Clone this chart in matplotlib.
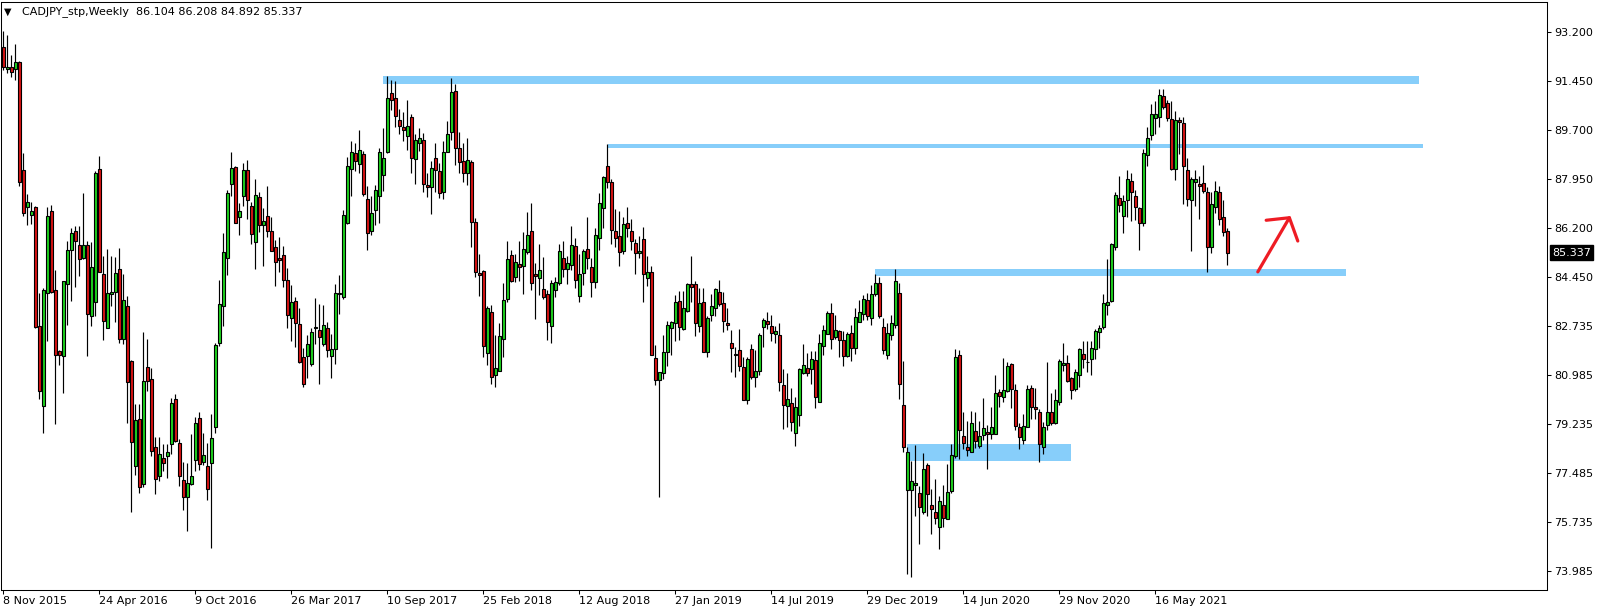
import numpy as np
import matplotlib
matplotlib.use("Agg")
import matplotlib.pyplot as plt
from matplotlib.patches import Rectangle

# ---------------- data (weekly CADJPY candles, 8 Nov 2015 .. Sep 2021) ----------------
opens = [
    92.68, 91.87, 91.95, 91.87, 92.13, 88.28, 86.95, 86.67, 86.98, 82.72,
    79.88, 83.89, 86.81, 83.99, 81.82, 81.64, 84.23, 85.42, 86.12, 85.61,
    85.16, 85.61, 83.09, 83.57, 88.31, 84.56, 82.64, 83.85, 83.95, 84.76,
    82.26, 83.44, 81.47, 77.74, 79.41, 77.08, 81.25, 80.82, 78.41, 77.36,
    78.02, 78.07, 78.50, 80.11, 78.54, 77.23, 76.63, 77.08, 77.93, 79.43,
    77.88, 77.74, 77.84, 79.12, 82.11, 83.44, 85.13, 87.77, 88.38, 86.59,
    87.37, 88.28, 87.01, 85.70, 87.31, 86.31, 86.63, 86.09, 85.52, 85.13,
    85.25, 84.36, 83.00, 83.60, 82.78, 81.60, 81.64, 81.38, 82.64, 82.58,
    82.07, 82.66, 81.66, 81.89, 83.87, 83.74, 86.40, 88.32, 88.88, 88.51,
    88.86, 87.24, 86.09, 86.84, 87.35, 88.09, 88.92, 91.02, 90.85, 90.06,
    89.81, 89.49, 90.17, 88.66, 89.24, 89.34, 87.73, 87.68, 88.70, 88.24,
    87.48, 88.92, 89.62, 91.08, 89.07, 88.60, 88.16, 88.56, 86.41, 84.62,
    84.68, 81.75, 83.21, 80.99, 81.13, 82.27, 83.70, 85.25, 84.46, 84.93,
    84.87, 85.35, 86.09, 84.59, 84.44, 84.04, 83.87, 82.71, 83.99, 84.27,
    85.16, 84.74, 84.91, 85.57, 83.80, 84.62, 85.46, 84.84, 84.30, 85.84,
    86.91, 88.41, 87.84, 86.09, 85.93, 85.38, 86.41, 86.12, 85.67, 85.32,
    85.83, 84.42, 84.63, 81.57, 80.81, 81.03, 81.79, 82.64, 82.81, 83.60,
    82.62, 83.25, 84.21, 84.21, 82.71, 83.57, 81.81, 83.13, 83.35, 83.93,
    83.53, 82.83, 82.13, 81.71, 81.85, 81.25, 80.07, 81.89, 80.90, 81.13,
    82.68, 82.90, 82.71, 82.45, 82.40, 80.62, 79.88, 79.98, 78.92, 79.56,
    81.03, 81.22, 81.19, 81.51, 80.01, 82.02, 82.45, 83.19, 82.32, 82.55,
    82.21, 81.64, 82.46, 81.94, 82.87, 83.16, 83.64, 83.00, 83.87, 84.25,
    82.68, 81.70, 82.39, 82.74, 83.89, 79.90, 76.89, 76.89, 77.04, 76.76,
    76.10, 77.75, 76.34, 76.09, 75.55, 76.34, 75.84, 76.85, 78.07, 81.69,
    78.80, 78.39, 78.22, 78.96, 78.45, 78.82, 78.93, 78.86, 78.86, 80.36,
    80.20, 80.39, 81.37, 80.43, 79.12, 78.67, 79.12, 80.52, 79.84, 79.65,
    78.39, 79.18, 79.65, 79.27, 80.01, 81.34, 81.41, 80.87, 80.49, 80.99,
    81.73, 81.45, 81.53, 81.89, 82.49, 82.68, 83.48, 83.60, 85.54, 87.30,
    86.65, 87.20, 87.90, 87.35, 86.92, 86.41, 88.83, 89.52, 90.15, 90.17,
    90.92, 90.68, 90.09, 88.31, 90.06, 89.97, 88.28, 87.20, 87.87, 87.77,
    87.81, 87.49, 85.52, 86.95, 87.48, 86.60, 86.104,
]
highs = [
    93.25, 93.10, 92.38, 92.78, 92.17, 88.89, 87.42, 87.14, 87.01, 83.89,
    84.08, 86.95, 87.04, 84.72, 81.85, 84.34, 85.76, 86.22, 86.28, 86.28,
    87.46, 85.74, 85.71, 88.26, 88.77, 85.23, 85.46, 85.23, 85.19, 85.51,
    84.56, 83.79, 81.50, 79.94, 79.94, 82.49, 82.26, 81.22, 78.76, 78.76,
    78.50, 78.50, 80.16, 80.30, 78.70, 77.87, 77.84, 78.86, 79.46, 79.65,
    78.89, 78.54, 79.59, 82.11, 84.37, 86.02, 87.56, 88.92, 88.44, 87.10,
    88.54, 88.64, 87.14, 87.96, 87.48, 86.92, 87.71, 86.60, 85.77, 85.89,
    85.57, 84.78, 84.18, 83.74, 83.38, 81.94, 82.40, 82.66, 83.72, 83.51,
    83.48, 82.87, 82.45, 84.23, 84.55, 86.86, 88.73, 89.33, 89.24, 89.72,
    88.96, 87.71, 87.37, 87.75, 89.07, 89.78, 91.63, 91.49, 91.44, 90.47,
    90.35, 90.79, 90.28, 89.58, 89.78, 89.59, 88.18, 88.60, 89.24, 88.54,
    89.30, 90.03, 91.57, 91.34, 89.62, 89.24, 89.43, 88.63, 86.56, 85.27,
    84.72, 83.44, 83.47, 82.40, 82.83, 84.25, 85.76, 85.44, 85.29, 85.76,
    86.08, 86.79, 87.11, 84.97, 85.65, 85.19, 84.02, 84.36, 84.46, 85.65,
    85.76, 85.23, 86.28, 85.86, 85.27, 85.48, 86.59, 85.16, 86.21, 87.46,
    88.07, 89.20, 87.96, 86.88, 86.82, 86.60, 86.95, 86.53, 85.83, 85.93,
    86.25, 85.20, 84.85, 82.04, 81.09, 82.40, 82.91, 82.91, 83.83, 83.98,
    83.98, 84.25, 85.23, 84.34, 84.06, 84.08, 83.06, 83.87, 84.08, 84.36,
    83.93, 83.38, 82.58, 81.98, 82.62, 81.60, 81.60, 82.08, 81.85, 82.46,
    83.02, 83.21, 83.10, 82.72, 82.83, 81.19, 81.05, 80.52, 80.20, 81.24,
    82.08, 81.76, 81.83, 81.83, 82.43, 82.77, 83.25, 83.55, 83.10, 82.59,
    82.55, 82.49, 82.74, 83.38, 83.66, 83.83, 83.89, 84.18, 84.56, 84.46,
    83.00, 82.81, 83.10, 84.76, 84.27, 81.47, 78.39, 77.91, 78.48, 77.01,
    78.19, 77.84, 76.91, 77.27, 76.66, 77.05, 77.80, 78.52, 81.89, 81.85,
    79.65, 79.33, 79.69, 79.65, 79.34, 80.16, 79.18, 79.85, 80.96, 80.48,
    81.57, 81.45, 81.41, 80.64, 79.27, 79.59, 80.62, 80.62, 80.52, 79.75,
    79.31, 81.43, 80.33, 80.48, 81.56, 82.11, 81.70, 80.90, 81.18, 81.95,
    82.17, 82.17, 82.17, 82.62, 82.74, 83.85, 85.10, 85.67, 87.48, 88.07,
    87.39, 88.28, 88.18, 87.56, 86.97, 89.02, 89.81, 90.64, 90.74, 91.17,
    91.17, 90.76, 90.74, 90.38, 90.17, 90.17, 88.70, 88.03, 88.28, 88.07,
    88.45, 87.68, 87.49, 87.88, 87.71, 87.20, 86.208,
]
lows = [
    91.85, 91.75, 91.59, 91.50, 87.71, 86.65, 86.33, 86.37, 82.66, 80.13,
    78.92, 82.17, 83.89, 79.24, 81.34, 80.35, 82.77, 83.61, 84.12, 84.50,
    85.10, 81.66, 82.71, 83.09, 84.63, 82.21, 82.64, 83.44, 82.87, 82.13,
    82.07, 79.28, 76.09, 77.42, 76.76, 76.98, 80.39, 78.07, 76.73, 77.21,
    77.56, 77.31, 78.16, 78.57, 77.00, 76.15, 75.40, 77.05, 77.55, 77.59,
    77.75, 76.51, 74.81, 78.89, 82.01, 82.71, 84.55, 87.35, 86.41, 85.95,
    87.01, 86.54, 85.65, 84.76, 86.08, 84.85, 85.89, 85.38, 84.15, 84.63,
    84.12, 82.64, 82.20, 81.98, 81.41, 80.54, 80.86, 81.28, 82.07, 80.64,
    82.01, 81.62, 80.86, 81.38, 83.16, 83.70, 86.37, 87.37, 88.26, 88.16,
    87.35, 85.44, 85.97, 86.31, 86.41, 87.52, 88.88, 90.41, 89.81, 89.58,
    89.33, 88.98, 88.19, 87.77, 88.95, 87.48, 87.33, 86.73, 87.48, 87.30,
    87.23, 88.92, 89.36, 88.47, 88.19, 87.86, 87.75, 85.52, 84.46, 83.80,
    81.62, 81.34, 80.67, 80.54, 81.13, 81.60, 83.57, 84.30, 84.30, 84.34,
    83.87, 85.27, 83.99, 82.97, 83.83, 83.70, 82.23, 82.13, 83.74, 84.18,
    84.46, 84.23, 84.72, 84.08, 83.57, 84.18, 84.74, 83.74, 84.06, 85.44,
    86.21, 87.65, 85.65, 85.55, 84.85, 85.27, 85.90, 85.42, 84.59, 85.14,
    83.57, 84.14, 81.70, 80.62, 76.61, 80.84, 81.28, 81.70, 82.17, 82.23,
    82.58, 83.23, 83.57, 82.36, 82.52, 81.79, 81.60, 82.90, 83.09, 83.44,
    82.52, 82.59, 81.09, 80.90, 81.13, 80.07, 79.94, 80.83, 80.55, 80.96,
    81.98, 82.62, 82.17, 82.13, 80.41, 79.05, 79.12, 78.99, 78.45, 79.15,
    81.00, 80.94, 80.64, 79.78, 80.01, 81.70, 82.43, 81.89, 82.26, 81.60,
    81.28, 81.60, 81.47, 81.73, 82.87, 82.93, 82.93, 82.77, 83.80, 83.00,
    81.73, 81.56, 82.23, 82.64, 80.13, 78.22, 73.87, 73.79, 75.96, 74.94,
    76.02, 75.93, 75.30, 75.65, 74.76, 75.55, 75.84, 76.76, 78.03, 77.99,
    78.35, 78.10, 78.22, 78.38, 78.38, 78.64, 77.61, 78.70, 78.86, 79.84,
    80.01, 80.36, 79.78, 79.03, 78.35, 78.52, 79.12, 79.41, 79.40, 77.88,
    78.16, 79.01, 79.20, 79.24, 79.92, 81.13, 80.71, 80.13, 80.41, 80.54,
    81.22, 81.09, 80.96, 81.53, 81.95, 82.62, 83.13, 83.57, 85.42, 86.79,
    86.05, 86.59, 86.47, 86.50, 85.42, 86.28, 88.41, 89.34, 89.56, 89.81,
    90.45, 90.03, 88.28, 87.94, 88.86, 87.07, 87.01, 85.39, 87.01, 86.54,
    87.46, 84.65, 85.33, 86.75, 86.33, 85.93, 84.892,
]
closes = [
    91.97, 91.97, 91.78, 92.13, 87.84, 86.75, 87.14, 86.82, 82.68, 80.41,
    83.99, 86.63, 83.92, 81.70, 81.70, 84.31, 85.42, 86.05, 85.74, 85.10,
    85.61, 83.16, 84.82, 88.18, 84.65, 82.91, 83.89, 83.93, 84.62, 82.27,
    83.64, 80.71, 78.57, 79.37, 76.99, 80.75, 80.75, 78.25, 77.27, 78.16,
    77.84, 78.22, 79.98, 78.61, 77.36, 76.63, 77.14, 77.36, 79.27, 77.80,
    78.12, 76.91, 78.73, 82.04, 83.51, 85.35, 87.46, 88.35, 86.41, 86.81,
    88.28, 87.20, 85.99, 87.39, 86.31, 86.46, 86.09, 85.38, 85.00, 85.07,
    84.37, 83.13, 83.57, 82.83, 81.43, 80.67, 82.07, 82.49, 82.68, 82.32,
    82.74, 81.85, 81.89, 83.89, 83.88, 86.67, 88.41, 88.92, 88.60, 88.98,
    87.43, 86.05, 86.75, 87.56, 88.92, 88.70, 90.85, 90.77, 90.19, 89.84,
    89.71, 89.85, 88.70, 89.34, 89.43, 87.77, 87.68, 88.37, 88.28, 87.46,
    88.94, 89.56, 91.05, 89.05, 88.58, 88.16, 88.63, 86.44, 84.63, 84.53,
    82.02, 83.35, 80.90, 81.22, 82.36, 83.64, 85.10, 84.34, 85.00, 84.82,
    85.46, 85.95, 84.27, 84.49, 84.72, 83.76, 82.87, 84.25, 84.30, 85.38,
    84.76, 84.97, 85.61, 84.37, 84.56, 85.39, 85.13, 84.30, 85.95, 87.10,
    88.03, 87.84, 86.16, 85.84, 85.35, 86.37, 86.21, 85.76, 85.32, 85.38,
    84.56, 84.63, 81.70, 80.81, 81.09, 81.81, 82.74, 82.85, 83.57, 82.68,
    83.35, 84.21, 84.11, 82.81, 83.53, 81.81, 83.02, 83.44, 84.04, 83.51,
    82.91, 82.77, 81.95, 81.69, 81.28, 80.07, 81.53, 80.90, 81.13, 82.40,
    82.93, 82.78, 82.46, 82.53, 80.71, 79.92, 80.11, 79.31, 79.82, 81.19,
    81.32, 81.03, 81.53, 80.20, 82.13, 82.58, 83.19, 82.27, 82.58, 82.21,
    81.66, 82.43, 81.92, 83.04, 83.21, 83.67, 83.09, 83.85, 84.27, 83.09,
    81.85, 82.46, 82.83, 84.31, 80.67, 78.39, 78.22, 77.18, 77.14, 76.28,
    77.61, 76.73, 76.19, 75.87, 76.48, 75.89, 76.82, 78.13, 81.60, 79.03,
    78.54, 78.29, 79.28, 78.61, 78.80, 79.09, 78.86, 79.12, 80.33, 80.24,
    80.43, 81.31, 80.49, 79.15, 78.77, 79.15, 80.48, 79.84, 79.75, 78.52,
    79.12, 79.65, 79.28, 80.07, 81.47, 81.41, 80.77, 80.45, 81.09, 81.89,
    81.53, 81.44, 81.94, 82.53, 82.66, 83.53, 83.57, 85.63, 87.39, 87.05,
    87.16, 87.95, 87.48, 86.95, 86.41, 88.88, 89.43, 90.29, 90.29, 90.96,
    90.54, 90.15, 88.31, 90.06, 90.00, 88.44, 87.23, 87.96, 87.96, 87.72,
    87.52, 85.55, 87.06, 87.52, 86.55, 86.08, 85.337,
]

date_labels = ["8 Nov 2015", "24 Apr 2016", "9 Oct 2016", "26 Mar 2017", "10 Sep 2017",
               "25 Feb 2018", "12 Aug 2018", "27 Jan 2019", "14 Jul 2019", "29 Dec 2019",
               "14 Jun 2020", "29 Nov 2020", "16 May 2021"]
label_every = 24  # bars between date labels
price_ticks = [93.2, 91.45, 89.7, 87.95, 86.2, 84.45, 82.735, 80.985, 79.235, 77.485, 75.735, 73.985]
price_labels = ["93.200", "91.450", "89.700", "87.950", "86.200", "84.450", "82.735",
                "80.985", "79.235", "77.485", "75.735", "73.985"]

# drawn objects: (bar_start, bar_end, price_low, price_high)
zones = [(94.9, 354.0, 91.36, 91.63),
         (151.1, 354.9, 89.08, 89.21),
         (217.9, 335.7, 84.51, 84.76),
         (226.0, 266.9, 77.91, 78.52)]
arrow_shaft = [(313.6, 84.65), (321.5, 86.58)]
arrow_head = [(315.7, 86.49), (321.5, 86.58), (323.6, 85.75)]

symbol_header = "CADJPY_stp,Weekly"

# ---------------- figure ----------------
W, H = 1604, 614
fig = plt.figure(figsize=(W / 100, H / 100), dpi=100)
fig.patch.set_facecolor("white")
L_px, R_px, T_px, B_px = 1, 1547, 2, 590
ax = fig.add_axes([L_px / W, 1 - B_px / H, (R_px - L_px) / W, (B_px - T_px) / H])

o = np.array(opens); h = np.array(highs); l = np.array(lows); c = np.array(closes)
n = len(o)
x = np.arange(n)

bull = "#1ED21E"
bear = "#D81414"
blue = "#87CEFA"

for (x0, x1, p0, p1) in zones:
    ax.add_patch(Rectangle((x0, p0), x1 - x0, p1 - p0, facecolor=blue, edgecolor="none", zorder=1))

ax.vlines(x, l, h, color="black", linewidth=0.85, zorder=2)
body_lo = np.minimum(o, c)
body_h = np.abs(c - o)
cols = [bull if cc >= oo else bear for oo, cc in zip(o, c)]
ax.bar(x, body_h, bottom=body_lo, width=0.68, color=cols, edgecolor="black",
       linewidth=0.8, zorder=3)

ax.plot([p[0] for p in arrow_shaft], [p[1] for p in arrow_shaft], color="#EE1C24",
        lw=2.3, solid_capstyle="round", zorder=5)
ax.plot([p[0] for p in arrow_head], [p[1] for p in arrow_head], color="#EE1C24",
        lw=2.3, solid_capstyle="round", solid_joinstyle="round", zorder=5)

# axis limits (pixel-calibrated)
ax.set_xlim(-0.575, 385.9)
ax.set_ylim(73.31, 94.27)

ax.yaxis.tick_right()
ax.set_yticks(price_ticks)
ax.set_yticklabels(price_labels)
ax.set_xticks(np.arange(len(date_labels)) * label_every)
ax.set_xticklabels(date_labels, ha="left")
ax.tick_params(axis="both", direction="out", length=3, width=0.75, labelsize=8,
               colors="black")
ax.tick_params(axis="y", pad=2)
ax.tick_params(axis="x", pad=1.5)
for s in ax.spines.values():
    s.set_linewidth(0.75)
    s.set_color("black")

# current price tag
last = closes[-1]
ax.annotate(f"{last:.3f}", xy=(1.0, last), xycoords=("axes fraction", "data"),
            xytext=(5, 0), textcoords="offset pixels", va="center", ha="left",
            fontsize=8, color="white", annotation_clip=False,
            bbox=dict(boxstyle="square,pad=0.2", facecolor="black", edgecolor="black"))

# header
fig.text(4 / W, 1 - 12 / H, "\u25BC", fontsize=7, va="center", ha="left", color="black")
fig.text(22 / W, 1 - 12 / H,
         f"{symbol_header}  {opens[-1]:.3f} {highs[-1]:.3f} {lows[-1]:.3f} {closes[-1]:.3f}",
         fontsize=8, va="center", ha="left", color="black",
         bbox=dict(boxstyle="square,pad=0.1", facecolor="white", edgecolor="none"))

fig.savefig("out.png", dpi=100, facecolor="white")
